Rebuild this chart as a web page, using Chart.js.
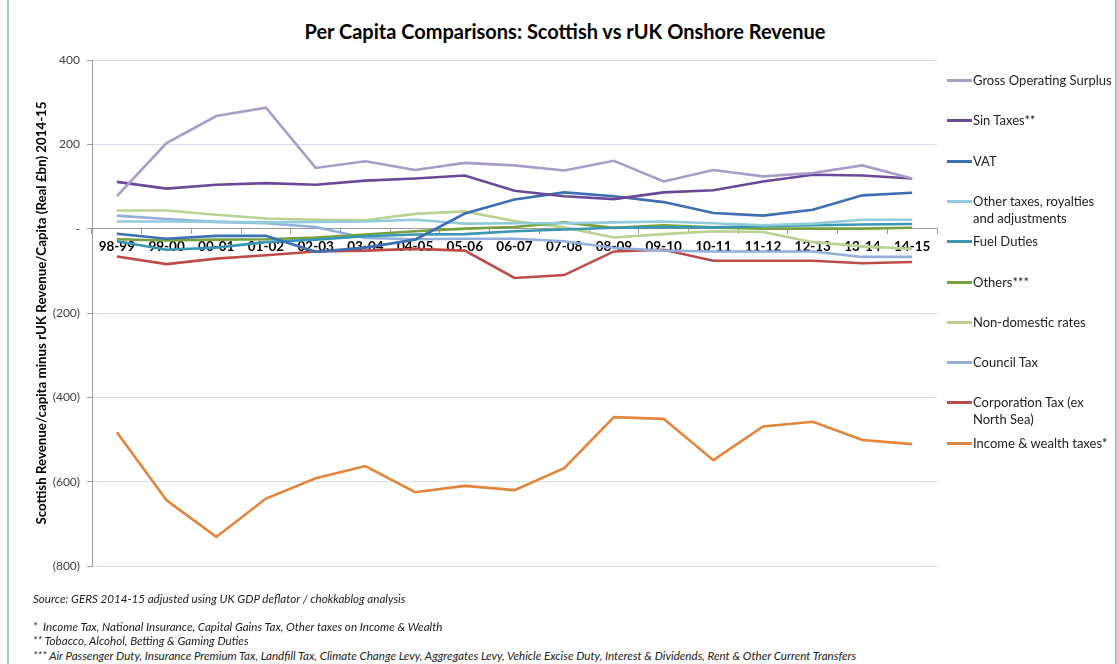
<!DOCTYPE html>
<html>
<head>
<meta charset="utf-8">
<script src="https://cdn.jsdelivr.net/npm/chart.js@4/dist/chart.umd.min.js"></script>
<style>
  html, body { margin: 0; padding: 0; background: #fff; }
  body { width: 1117px; height: 664px; position: relative; overflow: hidden; font-family: Lato, 'Open Sans', sans-serif; }
  .frame { position: absolute; left: 7px; top: 0; width: 1106px; height: 664px; border-left: 2px solid #a7c0e4; border-right: 2px solid #a7c0e4; }
  #title { position: absolute; left: 0; width: 1130px; top: 19px; text-align: center; font-weight: bold; font-size: 20px; color: #000; }
  #wrap { position: absolute; left: 0; top: 0; width: 1117px; height: 600px; }
  #legend { position: absolute; left: 947px; top: 0; }
  .item { position: absolute; left: 0; white-space: pre; font-size: 13px; line-height: 17px; color: #222; }
  .item .swatch { position: absolute; left: 0; top: 7px; width: 25px; height: 3px; }
  .item .txt { position: absolute; left: 26px; top: 0; }
  .note { position: absolute; left: 33px; font-style: italic; font-size: 11.6px; color: #222; white-space: nowrap; }
</style>
</head>
<body>
<div class="frame"></div>
<div id="title">Per Capita Comparisons: Scottish vs rUK Onshore Revenue</div>
<div id="wrap"><canvas id="chart"></canvas></div>
<div id="legend"></div>
<div class="note" style="top:592px">Source: GERS 2014-15 adjusted using UK GDP deflator / chokkablog analysis</div>
<div class="note" style="top:620px">*&nbsp; Income Tax, National Insurance, Capital Gains Tax, Other taxes on Income &amp; Wealth</div>
<div class="note" style="top:634px">** Tobacco, Alcohol, Betting &amp; Gaming Duties</div>
<div class="note" style="top:649px">*** Air Passenger Duty, Insurance Premium Tax, Landfill Tax, Climate Change Levy, Aggregates Levy, Vehicle Excise Duty, Interest &amp; Dividends, Rent &amp; Other Current Transfers</div>
<script>
const years = ['98-99', '99-00', '00-01', '01-02', '02-03', '03-04', '04-05', '05-06', '06-07',
  '07-08', '08-09', '09-10', '10-11', '11-12', '12-13', '13-14', '14-15'];

const grossOperatingSurplus = [77, 203, 267, 287, 144, 160, 139, 156, 150, 138, 161, 112, 139, 124, 132, 150, 119];
const sinTaxes = [111, 95, 104, 108, 104, 114, 119, 126, 90, 77, 70, 86, 91, 112, 128, 126, 119];
const vat = [-12, -24, -17, -17, -55, -45, -26, 36, 69, 86, 77, 63, 37, 31, 45, 79, 85];
const otherTaxes = [17, 17, 16, 15, 16, 17, 21, 12, 13, 13, 15, 17, 13, 8, 12, 21, 21];
const fuelDuties = [-30, -50, -45, -32, -26, -18, -14, -13, -6, -2, 2, 3, 3, 6, 8, 10, 11];
const others = [-25, -28, -26, -25, -21, -14, -6, 0, 4, 15, 2, 8, 3, 0, 0, 0, 2];
const nonDomesticRates = [43, 43, 33, 24, 21, 20, 35, 41, 18, 3, -21, -13, -6, -8, -32, -42, -48];
const councilTax = [31, 23, 16, 13, 4, -22, -25, -24, -24, -30, -46, -52, -54, -54, -54, -67, -67];
const corporationTax = [-66, -84, -71, -63, -54, -52, -48, -52, -117, -110, -54, -50, -76, -76, -76, -82, -79];
const incomeWealth = [-483, -644, -731, -640, -592, -563, -625, -610, -620, -568, -447, -451, -549, -469, -458, -501, -511];

const yTicks = [400, 200, 0, -200, -400, -600, -800];

const series = [
  { label: 'Gross Operating Surplus', data: grossOperatingSurplus, color: '#a99cc9' },
  { label: 'Sin Taxes**', data: sinTaxes, color: '#6a4a98' },
  { label: 'VAT', data: vat, color: '#3d6fb3' },
  { label: 'Other taxes, royalties\nand adjustments', data: otherTaxes, color: '#92cbdc' },
  { label: 'Fuel Duties', data: fuelDuties, color: '#3a97b4' },
  { label: 'Others***', data: others, color: '#77a03e' },
  { label: 'Non-domestic rates', data: nonDomesticRates, color: '#b9d28f' },
  { label: 'Council Tax', data: councilTax, color: '#93afd9' },
  { label: 'Corporation Tax (ex\nNorth Sea)', data: corporationTax, color: '#bd4b48' },
  { label: 'Income & wealth taxes*', data: incomeWealth, color: '#e3853a' },
];

// legend (html, right side)
const legendEl = document.getElementById('legend');
series.forEach((s, i) => {
  const item = document.createElement('div');
  item.className = 'item';
  item.style.top = (72 + i * 40.3) + 'px';
  item.innerHTML = `<span class="swatch" style="background:${s.color}"></span><span class="txt"></span>`;
  item.querySelector('.txt').textContent = s.label;
  legendEl.appendChild(item);
});

function fmtTick(v) {
  if (v === 0) return '-';
  if (v < 0) return '(' + Math.abs(v) + ')';
  return String(v);
}

new Chart(document.getElementById('chart'), {
  type: 'line',
  data: {
    labels: years,
    datasets: series.map(s => ({
      label: s.label,
      data: s.data,
      borderColor: s.color,
      backgroundColor: s.color,
      borderWidth: 2.6,
      pointRadius: 0,
      tension: 0,
      fill: false,
    }))
  },
  options: {
    responsive: true,
    maintainAspectRatio: false,
    animation: false,
    layout: { padding: { left: 20, right: 180, top: 60, bottom: 34 } },
    plugins: {
      legend: { display: false },
      tooltip: { enabled: false },
    },
    scales: {
      x: {
        type: 'category',
        position: { y: 0 },
        offset: true,
        grid: { drawOnChartArea: false, drawTicks: true, tickLength: 5, offset: true, tickColor: '#9a9a9a' },
        border: { display: true, color: '#9a9a9a', width: 1 },
        ticks: {
          autoSkip: false,
          maxRotation: 0,
          padding: 5,
          color: '#000',
          font: { family: 'Lato', size: 13.5, weight: 'bold' }
        }
      },
      y: {
        min: -800,
        max: 400,
        afterBuildTicks: (axis) => { axis.ticks = yTicks.map(v => ({ value: v })); },
        afterFit: (axis) => { axis.width = 72; },
        grid: { color: '#d3def0', lineWidth: 1, tickLength: 5, tickColor: '#9a9a9a' },
        border: { display: true, color: '#9a9a9a', width: 1 },
        ticks: {
          padding: 7,
          color: '#404040',
          font: { family: 'Lato', size: 12 },
          callback: (val) => fmtTick(val)
        },
        title: {
          display: true,
          text: 'Scottish Revenue/capita minus rUK Revenue/Capita (Real £bn) 2014-15',
          color: '#000',
          padding: { top: 14, bottom: 0 },
          font: { family: 'Lato', size: 13.3, weight: 'bold' }
        }
      }
    }
  }
});
</script>
</body>
</html>
